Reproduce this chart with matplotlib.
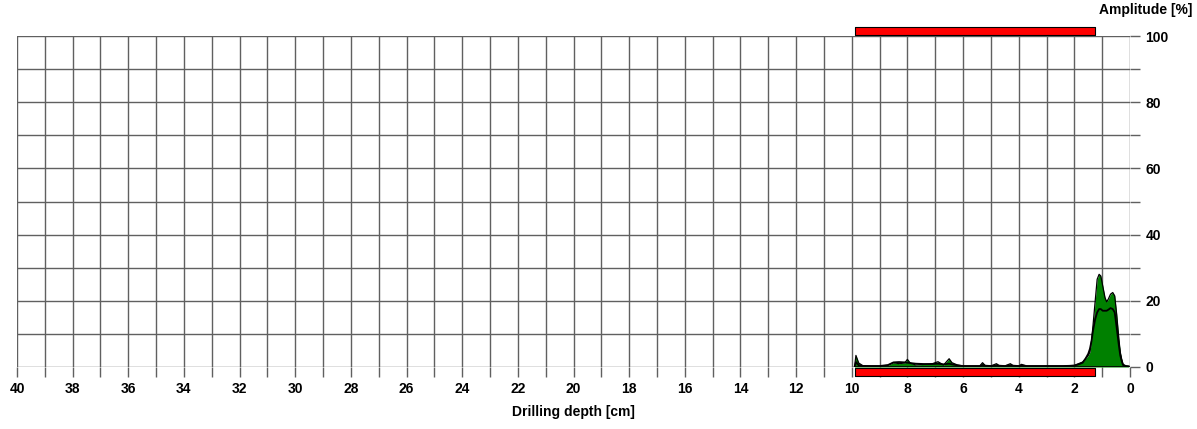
import numpy as np
import matplotlib.pyplot as plt

plt.rcParams['font.family'] = ['Liberation Sans', 'DejaVu Sans']

# drilling depth [cm] and amplitude [%]
depth = [9.9, 9.85, 9.75, 9.6, 9.3, 9.0, 8.7, 8.5, 8.3, 8.1, 8.0, 7.9, 7.7, 7.4,
         7.1, 6.9, 6.7, 6.5, 6.4, 6.2, 6.0, 5.7, 5.4, 5.3, 5.2, 5.0, 4.8, 4.7,
         4.5, 4.3, 4.2, 4.0, 3.9, 3.7, 3.3, 2.8, 2.4, 2.0, 1.85, 1.7, 1.6, 1.5,
         1.44, 1.38, 1.33, 1.25, 1.18, 1.11, 1.05, 0.98, 0.9, 0.84, 0.78, 0.7,
         0.62, 0.55, 0.48, 0.4, 0.35, 0.3, 0.25, 0.15, 0.05]
amp_max = [0.0, 3.5, 1.2, 0.4, 0.3, 0.3, 0.5, 1.3, 1.0, 1.2, 2.3, 1.2, 0.6, 0.8,
           1.0, 1.6, 0.6, 2.5, 1.3, 0.6, 0.3, 0.3, 0.3, 1.3, 0.4, 0.3, 1.0, 0.4,
           0.3, 1.0, 0.4, 0.3, 0.8, 0.3, 0.3, 0.3, 0.3, 0.5, 1.0, 1.5, 2.5, 3.5,
           4.5, 8.0, 12.5, 20.0, 26.5, 28.0, 27.5, 24.5, 21.0, 19.7, 20.5, 22.0,
           22.5, 21.5, 16.0, 8.4, 4.5, 2.4, 0.8, 0.3, 0.2]
amp_mean = [0.0, 1.5, 0.5, 0.3, 0.3, 0.3, 0.6, 1.4, 1.5, 1.4, 1.3, 1.2, 1.0, 0.9,
            0.9, 1.0, 0.8, 1.0, 0.8, 0.5, 0.3, 0.3, 0.3, 0.6, 0.4, 0.3, 0.5, 0.4,
            0.3, 0.5, 0.4, 0.3, 0.4, 0.3, 0.3, 0.3, 0.3, 0.4, 0.8, 1.3, 2.5, 4.0,
            5.5, 8.0, 11.0, 14.5, 16.5, 17.5, 17.5, 17.0, 17.0, 17.0, 17.3, 17.8,
            17.5, 16.5, 12.0, 6.5, 3.5, 1.8, 0.6, 0.3, 0.2]

bar_start, bar_end = 9.9, 1.25
xticks = list(range(0, 41, 2))
yticks = list(range(0, 101, 20))

fig = plt.figure(figsize=(11.97, 4.29), dpi=100)
ax = fig.add_axes([17 / 1197, (429 - 367) / 429, (1130 - 17) / 1197, (367 - 36) / 429])

# grid
for x in range(0, 41):
    ax.axvline(x, color='#606060', lw=1, zorder=1)
for y in range(0, 101, 10):
    ax.axhline(y, color='#606060', lw=1, zorder=1)

ax.fill_between(depth, amp_max, 0, color='#008000', lw=0, zorder=2)
ax.plot(depth, amp_max, color='black', lw=0.9, zorder=3)
ax.plot(depth, amp_mean, color='black', lw=1.3, zorder=4)
ax.plot([0, 9.9], [0, 0], color='black', lw=1.2, zorder=4)

# red bars above and below the plot
ax.fill_between([bar_end, bar_start], 100.2, 102.6, color='#ff0000', ec='black', lw=0.8, zorder=5, clip_on=False)
ax.fill_between([bar_end, bar_start], -0.3, -2.6, color='#ff0000', ec='black', lw=0.8, zorder=5, clip_on=False)

ax.set_xlim(40, 0)
ax.set_ylim(0, 100)
ax.set_xticks(xticks)
ax.set_yticks(yticks)
ax.set_xticks(range(0, 41), minor=True)
ax.set_yticks(range(0, 101, 10), minor=True)
ax.yaxis.tick_right()
ax.tick_params(axis='both', which='both', direction='out', length=7, color='#606060', width=1)
ax.tick_params(axis='y', which='major', pad=4)
for lab in ax.get_xticklabels() + ax.get_yticklabels():
    lab.set_fontweight('bold')
    lab.set_fontsize(10)
for s in ['top', 'left', 'right', 'bottom']:
    ax.spines[s].set_visible(False)

ax.set_xlabel('Drilling depth [cm]', fontsize=10, fontweight='bold', labelpad=7)
fig.text(1192 / 1197, 1 - 10 / 429, 'Amplitude [%]', ha='right', va='center', fontsize=10, fontweight='bold')

fig.savefig('out.png', dpi=100)
